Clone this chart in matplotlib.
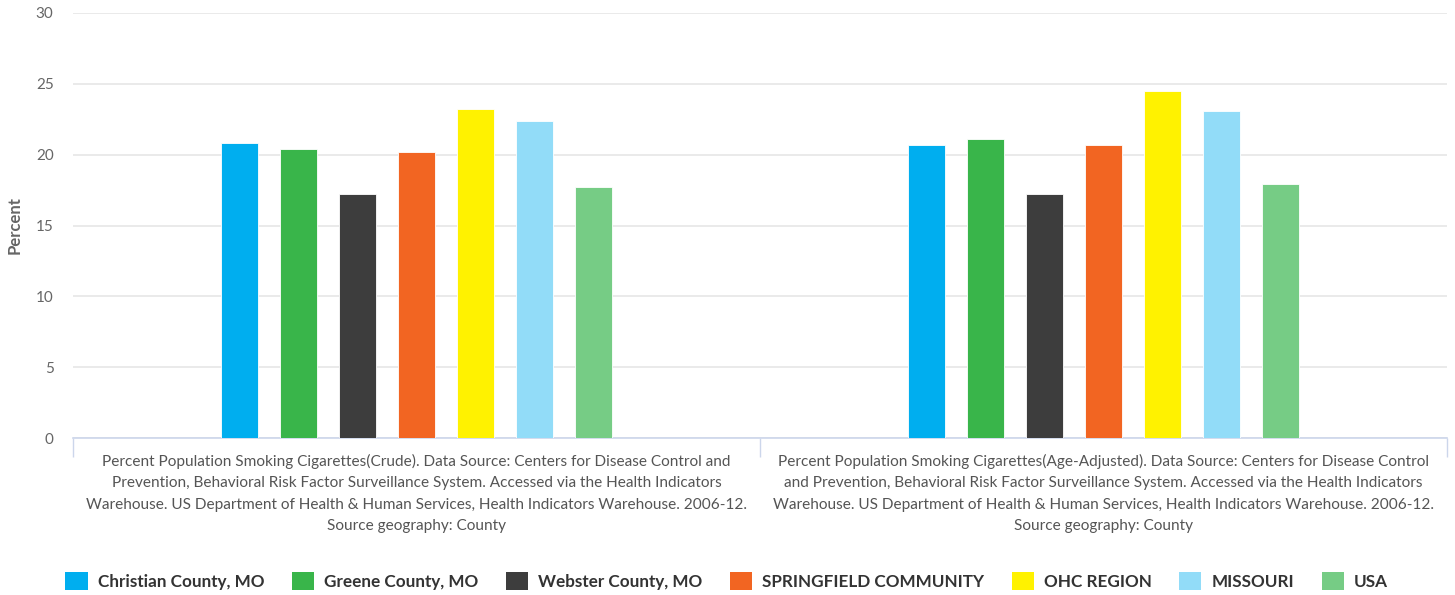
import matplotlib.pyplot as plt
from matplotlib.patches import Patch
import numpy as np

plt.rcParams['font.family'] = ['Lato', 'DejaVu Sans']

categories = [
    'Percent Population Smoking Cigarettes(Crude). Data Source: Centers for Disease Control and\n'
    'Prevention, Behavioral Risk Factor Surveillance System. Accessed via the Health Indicators\n'
    'Warehouse. US Department of Health & Human Services, Health Indicators Warehouse. 2006-12.\n'
    'Source geography: County',
    'Percent Population Smoking Cigarettes(Age-Adjusted). Data Source: Centers for Disease Control\n'
    'and Prevention, Behavioral Risk Factor Surveillance System. Accessed via the Health Indicators\n'
    'Warehouse. US Department of Health & Human Services, Health Indicators Warehouse. 2006-12.\n'
    'Source geography: County',
]
series = ['Christian County, MO', 'Greene County, MO', 'Webster County, MO',
          'SPRINGFIELD COMMUNITY', 'OHC REGION', 'MISSOURI', 'USA']
colors = ['#00aeef', '#39b54a', '#3d3d3d', '#f26522', '#fff200', '#92dcf8', '#76cc85']
values = [
    [20.8, 20.7],
    [20.4, 21.1],
    [17.2, 17.2],
    [20.2, 20.7],
    [23.2, 24.5],
    [22.4, 23.1],
    [17.7, 17.9],
]

fig = plt.figure(figsize=(14.55, 5.95), dpi=100)
ax = fig.add_axes([73 / 1455, 1 - 438 / 595, 1374 / 1455, 425 / 595])

x = np.arange(len(categories))
step = 0.0859
width = 0.054
for i, (name, col) in enumerate(zip(series, colors)):
    ax.bar(x + (i - 3) * step, values[i], width, color=col, edgecolor='white',
           linewidth=0.6, zorder=3, label=name)

ax.set_xlim(-0.5, 1.5)
ax.set_ylim(0, 30)
ax.set_yticks(range(0, 31, 5))
ax.yaxis.grid(True, color='#e6e6e6', linewidth=1.2, zorder=0)
ax.tick_params(axis='y', length=0, labelsize=11, labelcolor='#666666', pad=14)
ax.set_xticks([-0.5, 0.5, 1.5])
ax.set_xticklabels([])
ax.tick_params(axis='x', length=14, color='#ccd6eb', width=1, direction='out')
for s in ['top', 'right', 'left']:
    ax.spines[s].set_visible(False)
ax.spines['bottom'].set_color('#ccd6eb')
ax.spines['bottom'].set_linewidth(1.2)

for xi, lab in zip(x, categories):
    ax.text(xi, -1.1, lab, ha='center', va='top', fontsize=11.1, color='#555555',
            linespacing=1.68, transform=ax.transData)

ax.set_ylabel('Percent', fontsize=12, fontweight='bold', color='#666666')
ax.yaxis.set_label_coords(-0.037, 0.5)

handles = [Patch(facecolor=c, edgecolor='none') for c in colors]
leg = fig.legend(handles, series, loc='center', bbox_to_anchor=(0.4995, 1 - 581 / 595),
                 ncol=7, frameon=False, handlelength=1.3, handleheight=1.3,
                 columnspacing=1.6, handletextpad=0.6,
                 prop={'size': 12.3, 'weight': 'bold'})
for t in leg.get_texts():
    t.set_color('#333333')

fig.savefig('out.png', dpi=100)
